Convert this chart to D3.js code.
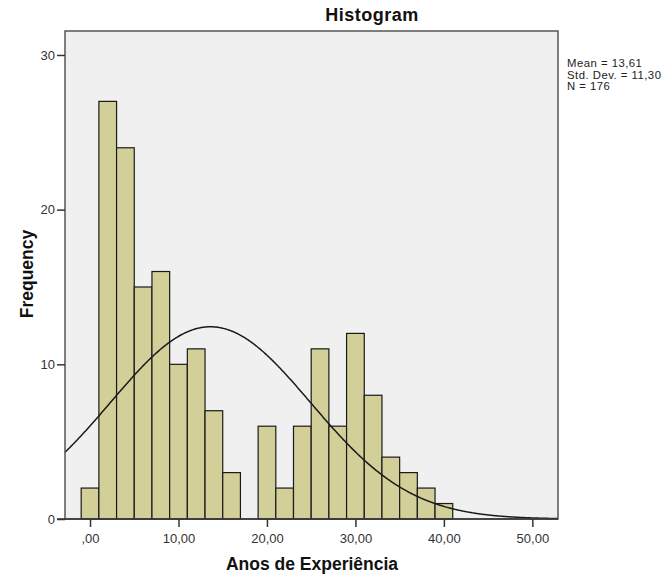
<!DOCTYPE html>
<html>
<head>
<meta charset="utf-8">
<script src="https://cdn.jsdelivr.net/npm/d3@7"></script>
<style>
  body { margin: 0; background: #fff; }
  text { font-family: "Liberation Sans", Arial, sans-serif; }
</style>
</head>
<body>
<svg id="chart" width="667" height="575"></svg>
<script>
// bin centres (bin width 2) and counts
const binCenters = [0, 2, 4, 6, 8, 10, 12, 14, 16, 18, 20, 22, 24, 26, 28, 30, 32, 34, 36, 38, 40];
const counts     = [2, 27, 24, 15, 16, 10, 11, 7, 3, 0, 6, 2, 6, 11, 6, 12, 8, 4, 3, 2, 1];
const binWidth = 2;

const xTicks = [0, 10, 20, 30, 40, 50];
const xTickLabels = [",00", "10,00", "20,00", "30,00", "40,00", "50,00"];
const yTicks = [0, 10, 20, 30];

const statLines = ["Mean = 13,61", "Std. Dev. = 11,30", "N = 176"];
const mean = 13.61, sd = 11.30, n = 176;

const svg = d3.select("#chart");
const pLeft = 65, pRight = 558, pTop = 31, pBottom = 519;

const x = d3.scaleLinear().domain([-2.83, 52.9]).range([pLeft, pRight]);
const y = d3.scaleLinear().domain([0, 31.55]).range([pBottom, pTop]);

// plot background
svg.append("rect")
  .attr("x", pLeft).attr("y", pTop)
  .attr("width", pRight - pLeft).attr("height", pBottom - pTop)
  .attr("fill", "#f0f0f0");

// bars
svg.append("g").selectAll("rect")
  .data(binCenters.map((c, i) => ({ c, v: counts[i] })).filter(d => d.v > 0))
  .join("rect")
  .attr("x", d => x(d.c - binWidth / 2))
  .attr("y", d => y(d.v))
  .attr("width", d => x(d.c + binWidth / 2) - x(d.c - binWidth / 2))
  .attr("height", d => y(0) - y(d.v))
  .attr("fill", "#d3cf98")
  .attr("stroke", "#1a1a1a")
  .attr("stroke-width", 1.2);

// normal curve
const pdf = v => n * binWidth * Math.exp(-0.5 * ((v - mean) / sd) ** 2) / (sd * Math.sqrt(2 * Math.PI));
const curveX = d3.range(-2.83, 52.91, 0.1);
svg.append("path")
  .datum(curveX)
  .attr("fill", "none")
  .attr("stroke", "#1a1a1a")
  .attr("stroke-width", 1.5)
  .attr("d", d3.line().x(d => x(d)).y(d => y(pdf(d))));

// frame
svg.append("rect")
  .attr("x", pLeft).attr("y", pTop)
  .attr("width", pRight - pLeft).attr("height", pBottom - pTop)
  .attr("fill", "none")
  .attr("stroke", "#555")
  .attr("stroke-width", 1.5);

// axes
const yAxis = svg.append("g")
  .attr("transform", `translate(${pLeft},0)`)
  .call(d3.axisLeft(y).tickValues(yTicks).tickSize(8).tickPadding(2));
const xAxis = svg.append("g")
  .attr("transform", `translate(0,${pBottom})`)
  .call(d3.axisBottom(x).tickValues(xTicks).tickSize(8).tickPadding(7)
    .tickFormat((d, i) => xTickLabels[i]));

[xAxis, yAxis].forEach(a => {
  a.select(".domain").remove();
  a.selectAll("line").attr("stroke", "#333").attr("stroke-width", 1.5);
  a.selectAll("text").attr("font-size", 13).attr("fill", "#333")
    .style("font-family", "'Liberation Sans', Arial, sans-serif");
});
// bottom axis line spans the frame
svg.append("line")
  .attr("x1", pLeft - 8).attr("x2", pRight)
  .attr("y1", pBottom).attr("y2", pBottom)
  .attr("stroke", "#333").attr("stroke-width", 1.5);

// title
svg.append("text")
  .attr("x", 372).attr("y", 21)
  .attr("text-anchor", "middle")
  .attr("font-size", 18).attr("font-weight", "bold")
  .attr("letter-spacing", 0.5)
  .attr("fill", "#111")
  .text("Histogram");

// axis titles
svg.append("text")
  .attr("x", 312).attr("y", 570)
  .attr("text-anchor", "middle")
  .attr("font-size", 17.5).attr("font-weight", "bold")
  .attr("fill", "#111")
  .text("Anos de Experiência");

svg.append("text")
  .attr("transform", "translate(33,274) rotate(-90)")
  .attr("text-anchor", "middle")
  .attr("font-size", 17.5).attr("font-weight", "bold")
  .attr("fill", "#111")
  .text("Frequency");

// stats box
svg.append("g").selectAll("text")
  .data(statLines)
  .join("text")
  .attr("x", 567)
  .attr("y", (d, i) => 67 + i * 11.7)
  .attr("font-size", 11.3)
  .attr("letter-spacing", 0.5)
  .attr("fill", "#222")
  .text(d => d);
</script>
</body>
</html>
